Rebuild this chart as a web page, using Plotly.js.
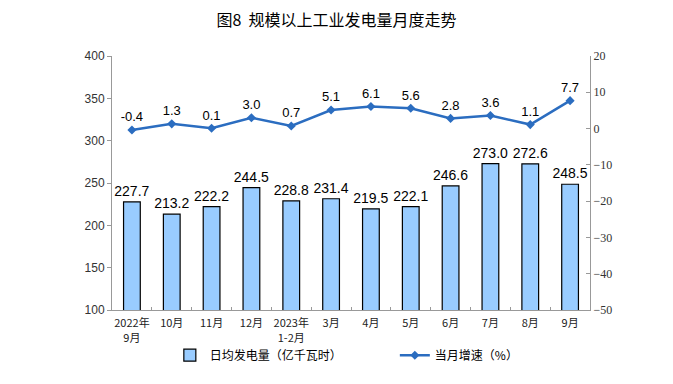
<!DOCTYPE html>
<html><head><meta charset="utf-8">
<script src="https://cdn.plot.ly/plotly-3.0.1.min.js"></script>
<style>body{margin:0;background:#fff}#c{width:673px;height:384px}</style>
</head><body><div id="c"></div>
<script>
const categories = ["2022年<br>9月","10月","11月","12月","2023年<br>1-2月","3月","4月","5月","6月","7月","8月","9月"];
const dailyOutput = [227.7,213.2,222.2,244.5,228.8,231.4,219.5,222.1,246.6,273.0,272.6,248.5];
const growthRate = [-0.4,1.3,0.1,3.0,0.7,5.1,6.1,5.6,2.8,3.6,1.1,7.7];
const barName = "日均发电量（亿千瓦时）";
const lineName = "当月增速（%）";

const cjk = '"Noto Sans CJK SC", sans-serif';
const lblFont = {family:'"Liberation Sans", Arial', size:13, color:'#000'};
const barLblFont = {family:'"Liberation Sans", Arial', size:14, color:'#000'};
const data = [
  {type:'bar', x:categories, y:dailyOutput, name:barName, width:0.42,
   marker:{color:'#99CCFF', line:{color:'#000', width:1.2}},
   text:dailyOutput.map(v=>v.toFixed(1)), textposition:'outside', cliponaxis:false,
   constraintext:'none', textfont:barLblFont, outsidetextfont:barLblFont, hoverinfo:'skip'},
  {type:'scatter', mode:'lines+markers+text', x:categories, y:growthRate, yaxis:'y2', name:lineName,
   line:{color:'#2B6DC0', width:2.5}, marker:{symbol:'diamond', size:7, color:'#2B6DC0'},
   text:growthRate.map(v=>v.toFixed(1)), textposition:'top center', cliponaxis:false,
   textfont:lblFont}
];
const layout = {
  width:673, height:384, margin:{l:112, r:83, t:56, b:74, autoexpand:false},
  paper_bgcolor:'#fff', plot_bgcolor:'#fff', showlegend:true,
  title:{text:'图8  规模以上工业发电量月度走势', x:0.5, xanchor:'center', y:0.948, yanchor:'middle',
    font:{family:cjk, size:16, color:'#000'}},
  xaxis:{type:'category', range:[-0.5,11.5], showline:true, linecolor:'#999', linewidth:1,
    ticks:'inside', tickson:'boundaries', ticklen:3, tickcolor:'#999', showgrid:false, tickangle:0,
    ticklabelstandoff:3, automargin:false, tickfont:{family:cjk, size:11, color:'#222'}, fixedrange:true},
  yaxis:{range:[100,400], dtick:50, showline:true, linecolor:'#999', linewidth:1, ticks:'outside',
    ticklen:4, tickcolor:'#999', showgrid:false, zeroline:false, automargin:false,
    tickfont:{family:'"Liberation Sans", Arial', size:12, color:'#333'}},
  yaxis2:{range:[-50,20], dtick:10, overlaying:'y', side:'right', showline:true, linecolor:'#999',
    linewidth:1, ticks:'inside', ticklen:4, tickcolor:'#999', showgrid:false, zeroline:false, automargin:false,
    tickfont:{family:'"Liberation Serif", serif', size:12, color:'#333'}},
  legend:{orientation:'h', x:0.121, xref:'paper', xanchor:'left', y:0.075, yref:'container', yanchor:'middle',
    bgcolor:'rgba(0,0,0,0)', font:{family:cjk, size:12, color:'#000'}, entrywidth:180, itemwidth:30},
  bargap:0.5
};
Plotly.newPlot('c', data, layout, {displayModeBar:false, staticPlot:true});
</script></body></html>
